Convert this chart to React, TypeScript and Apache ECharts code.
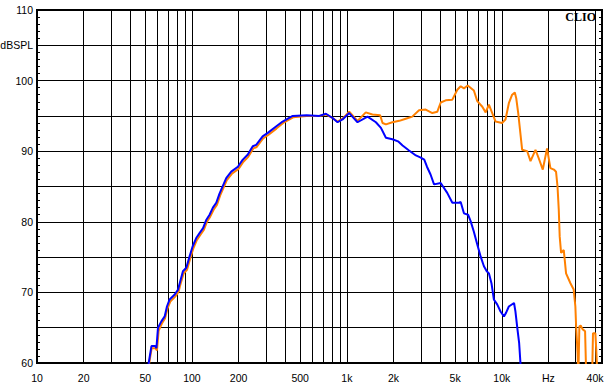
import { useEffect, useRef } from "react";
import * as echarts from "echarts";

// Frequency response, blue trace
const blueFreq = [50, 52.6, 54.8, 58, 59, 60.4, 63.5, 66.7, 69, 71.8, 77.4, 81.4, 83.4, 87.5, 92, 96.6, 101, 106.6, 112, 118, 124, 130, 136.6, 143.6, 150.7, 166.5, 179.4, 198, 213, 229, 247, 260, 286, 309, 349, 385, 447, 550, 664, 733, 809, 871, 938, 1036, 1172, 1360, 1540, 1660, 1787, 1968, 2140, 2290, 2520, 2790, 3000, 3160, 3290, 3470, 3655, 4035, 4446, 4796, 5300, 5430, 5700, 6060, 6295, 6605, 6950, 7300, 7670, 8000, 8260, 8580, 8890, 9340, 9820, 10330, 10650, 11110, 12000, 12250, 12640, 12950, 13200, 13500];
const blueDb = [55, 60, 62.4, 62.4, 62.1, 65.0, 65.9, 66.6, 68.0, 69.0, 69.7, 70.4, 71.3, 73.0, 73.5, 75.1, 76.5, 77.7, 78.4, 79.1, 80.3, 81.0, 82.0, 82.7, 84.0, 86.2, 87.1, 87.8, 88.8, 89.5, 90.7, 90.9, 92.1, 92.6, 93.5, 94.2, 95.0, 95.1, 95.0, 95.3, 94.7, 94.1, 94.5, 95.4, 94.1, 94.9, 94.1, 93.3, 91.9, 91.7, 91.4, 90.8, 90.1, 89.4, 89.1, 88.8, 87.8, 86.7, 85.3, 85.5, 84.1, 82.7, 82.7, 82.8, 81.2, 81.0, 80.1, 78.6, 76.8, 75.1, 73.7, 73.0, 72.7, 71.3, 69.0, 68.3, 67.3, 66.6, 67.1, 68.0, 68.5, 67.3, 64.7, 62.8, 60, 55];

// Frequency response, orange trace
const orangeFreq = [50, 53, 55, 58, 59.5, 61, 64, 67, 69.5, 72.5, 78, 82, 84, 88.5, 93, 97.5, 102, 107.5, 113, 119, 125, 131, 138, 145, 152, 168, 181, 200, 215, 231, 249, 262, 288, 311, 351, 388, 450, 550, 664, 733, 809, 871, 938, 1036, 1172, 1325, 1462, 1640, 1700, 1787, 1968, 2180, 2400, 2645, 2924, 3228, 3563, 3838, 4035, 4345, 4796, 5166, 5430, 5700, 6030, 6605, 6950, 7490, 7870, 8260, 8680, 9120, 10040, 10570, 11110, 11670, 12140, 12400, 12770, 13540, 14590, 15330, 16510, 17320, 18400, 19600, 20600, 21700, 22400, 22900, 23330, 23660, 24150, 25130, 26000, 27750, 29120, 29860, 30200, 30870, 31200, 31700, 32300, 33200, 34500, 35100, 38300, 38800, 40200, 40700, 41500];
const orangeDb = [55, 60, 62.1, 62.1, 61.8, 64.6, 65.6, 66.3, 67.7, 68.7, 69.4, 70.1, 71.0, 72.7, 73.2, 74.8, 76.2, 77.4, 78.1, 78.8, 80.0, 80.7, 81.7, 82.4, 83.7, 85.9, 86.8, 87.5, 88.5, 89.2, 90.4, 90.6, 91.8, 92.3, 93.2, 94.0, 94.8, 95.0, 95.0, 95.2, 94.7, 94.2, 94.6, 95.6, 94.3, 95.5, 95.2, 95.1, 94.0, 93.8, 94.1, 94.3, 94.6, 94.9, 95.8, 95.9, 95.4, 95.6, 96.9, 97.2, 97.3, 98.7, 99.2, 98.9, 99.3, 98.6, 97.1, 96.3, 95.5, 96.6, 95.4, 94.2, 94.0, 94.5, 96.8, 98.0, 98.3, 97.5, 95.4, 90.2, 90.0, 88.6, 90.2, 89.0, 87.4, 90.4, 87.6, 87.4, 87.1, 85.0, 81.7, 77.9, 75.6, 76.0, 72.7, 71.3, 70.4, 68.0, 65.2, 61.4, 58, 65.2, 65.3, 64.8, 64.5, 58, 58, 64.2, 64.2, 62, 58];

// Axis ticks
const gridFreqs = [20, 30, 40, 50, 60, 70, 80, 90, 100, 200, 300, 400, 500, 600, 700, 800, 900, 1000, 2000, 3000, 4000, 5000, 6000, 7000, 8000, 9000, 10000, 20000, 30000, 40000];
const labelFreqs = [10, 20, 50, 100, 200, 500, 1000, 2000, 5000, 10000, 20000, 40000];
const labelTexts = ["10", "20", "50", "100", "200", "500", "1k", "2k", "5k", "10k", "Hz", "40k"];
const yLabelValues = [60, 70, 80, 90, 100, 110];
const yUnitValue = 105;
const yUnitText = "dBSPL";

const FONT = "Liberation Sans, Arial, sans-serif";

export default function App() {
  const ref = useRef<HTMLDivElement>(null);
  useEffect(() => {
    if (!ref.current) return;
    const chart = echarts.init(ref.current, null, { renderer: "svg" });
    const labelLogs = labelFreqs.map((f) => Math.log10(f));
    const blueData = blueFreq.map((f, i) => [Math.log10(f), blueDb[i]]);
    const orangeData = orangeFreq.map((f, i) => [Math.log10(f), orangeDb[i]]);
    const yAxisCommon = {
      type: "value",
      min: 60,
      max: 110,
      interval: 5,
      axisLine: { show: true, lineStyle: { color: "#000", width: 2 } },
      axisTick: { show: true, inside: true, length: 3, lineStyle: { color: "#000" } },
      minorTick: { show: true, splitNumber: 5, length: 3, lineStyle: { color: "#000" } },
    };
    chart.setOption({
      animation: false,
      backgroundColor: "#fff",
      grid: {
        left: 37,
        right: 7,
        top: 10,
        bottom: 27,
        show: true,
        borderColor: "#000",
        borderWidth: 2,
        backgroundColor: "transparent",
        containLabel: false,
        outerBoundsMode: "none",
      },
      xAxis: {
        type: "value",
        min: 1,
        max: 4.647,
        axisLine: { show: true, lineStyle: { color: "#000", width: 2 } },
        axisTick: { show: false, customValues: gridFreqs.map((f) => Math.log10(f)) },
        splitLine: { show: true, lineStyle: { color: "#000", width: 1 } },
        axisLabel: {
          customValues: labelLogs,
          color: "#000",
          fontFamily: FONT,
          fontSize: 10.5,
          margin: 9,
          formatter: (v: number) => {
            let best = 0;
            for (let i = 1; i < labelLogs.length; i++) {
              if (Math.abs(labelLogs[i] - v) < Math.abs(labelLogs[best] - v)) best = i;
            }
            return labelTexts[best];
          },
        },
      },
      yAxis: [
        {
          ...yAxisCommon,
          position: "left",
          splitLine: { show: true, lineStyle: { color: "#000", width: 1 } },
          axisLabel: {
            color: "#000",
            fontFamily: FONT,
            fontSize: 10.5,
            margin: 4,
            formatter: (v: number) => {
              if (yLabelValues.indexOf(v) >= 0) return String(v);
              if (v === yUnitValue) return yUnitText;
              return "";
            },
          },
        },
        {
          ...yAxisCommon,
          position: "right",
          splitLine: { show: false },
          axisLabel: { show: false },
        },
      ],
      graphic: [
        {
          type: "text",
          right: 13,
          top: 11,
          style: {
            text: "CLIO",
            font: "bold 12px 'Liberation Serif', serif",
            fill: "#000",
          },
          z: 100,
        },
      ],
      series: [
        {
          type: "line",
          data: orangeData,
          showSymbol: false,
          clip: true,
          lineStyle: { color: "#FF8000", width: 2 },
          itemStyle: { color: "#FF8000" },
          z: 3,
        },
        {
          type: "line",
          data: blueData,
          showSymbol: false,
          clip: true,
          lineStyle: { color: "#0000FF", width: 2 },
          itemStyle: { color: "#0000FF" },
          z: 4,
        },
      ],
    });
    return () => chart.dispose();
  }, []);
  return (
    <div
      ref={ref}
      style={{ position: "fixed", left: 0, top: 0, width: 609, height: 390, background: "#fff" }}
    />
  );
}
